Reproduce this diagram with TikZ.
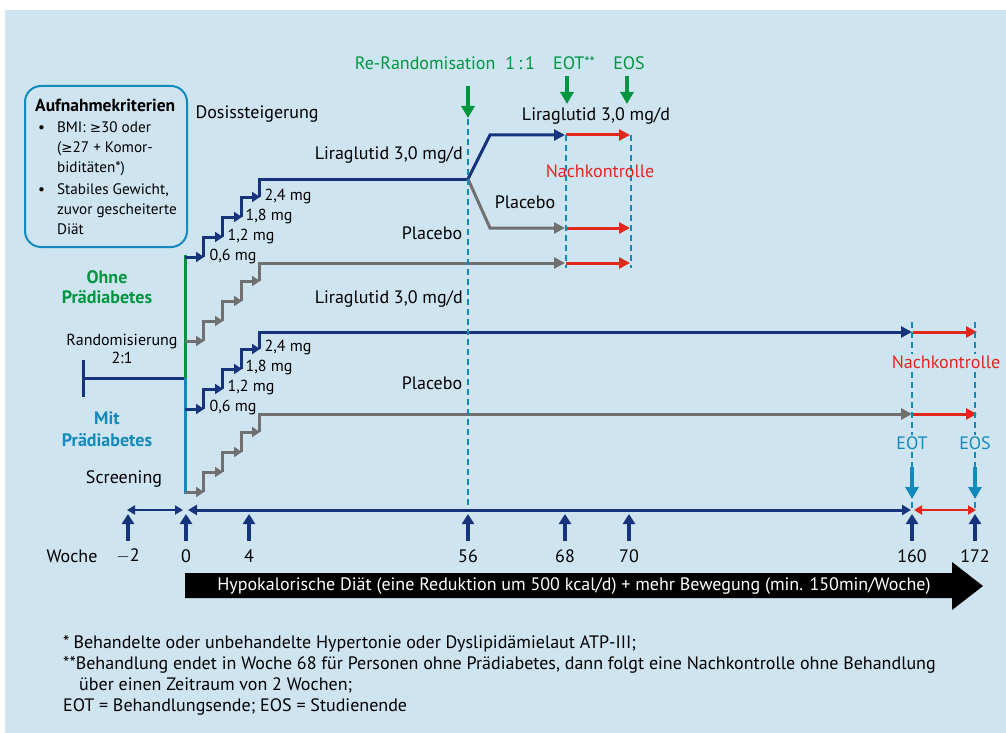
\documentclass[tikz,border=0pt]{standalone}
\usepackage{fontspec}
\setmainfont{PT Sans}
\newfontfamily\symfont{DejaVu Sans}
\usetikzlibrary{arrows.meta, positioning}

\definecolor{bgblue}{RGB}{207,228,241}
\definecolor{navy}{RGB}{22,52,124}
\definecolor{stepgray}{RGB}{112,112,112}
\definecolor{studygreen}{RGB}{0,150,64}
\definecolor{teal}{RGB}{18,138,188}
\definecolor{followred}{RGB}{228,38,28}

\begin{document}
\begin{tikzpicture}[x=1pt, y=-1pt,
    font=\fontsize{18}{20}\selectfont,
    >={Triangle[length=11pt,width=11pt]},
    line/.style={line width=3pt},
    stairtip/.style={-{Triangle[length=8pt,width=10pt]}},
    navyline/.style={line, draw=navy},
    grayline/.style={line, draw=stepgray},
    redline/.style={line, draw=followred, ->},
    marker/.style={draw=teal, line width=1.5pt, dash pattern=on 6pt off 4pt},
    tick/.style={draw=navy, line width=3.5pt, -{Triangle[length=10pt,width=12pt]}},
    greenarrow/.style={draw=studygreen, line width=3.5pt, -{Triangle[length=12pt,width=13pt]}},
    tealarrow/.style={draw=teal, line width=3.5pt, -{Triangle[length=12pt,width=13pt]}},
    label/.style={inner sep=1pt},
    dose/.style={inner sep=1pt, font=\fontsize{16}{18}\selectfont}]

    % background
    \useasboundingbox (0,0) rectangle (1006,733);
    \fill[bgblue] (5,10) rectangle (1006,733);

    % inclusion criteria
    \draw[teal, line width=2pt, rounded corners=16pt] (25,86) rectangle (187,247);
    \node[label, anchor=north west, align=left, font=\fontsize{15.2}{20}\selectfont]
        (crit) at (34,96) {%
        \begin{tabular}{@{}l@{\hspace{12pt}}l@{}}
        \multicolumn{2}{@{}l}{\fontsize{17.5}{20}\selectfont\bfseries Aufnahmekriterien}\\[1pt]
        \hspace{3pt}\textbullet & BMI: {\symfont\fontsize{13.5}{14}\selectfont ≥}30 oder\\
                    & ({\symfont\fontsize{13.5}{14}\selectfont ≥}27 + Komor-\\
                    & biditäten*)\\[2pt]
        \hspace{3pt}\textbullet & Stabiles Gewicht,\\
                    & zuvor gescheiterte\\
                    & Diät
        \end{tabular}};

    % group labels
    \node[label] (dosis) at (257,114) {Dosissteigerung};
    \node[label, text=studygreen, font=\fontsize{18}{20}\selectfont\bfseries, align=center]
        (ohne) at (107,287) {Ohne\\Prädiabetes};
    \node[label, text=teal, font=\fontsize{18}{22}\selectfont\bfseries, align=center]
        (mit) at (107,429) {Mit\\Prädiabetes};
    \node[label, align=center, font=\fontsize{16}{18}\selectfont] (rand) at (122,349) {Randomisierung\\2:1};
    \node[label] (screen) at (124,479) {Screening};

    % screening and randomisation
    \coordinate (split) at (185,378);
    \draw[navy, line width=3pt] (83,360) -- (83,397);
    \draw[navyline] (83,378) -- (split);
    \draw[studygreen, line width=3pt] (split) -- (185,255);
    \draw[teal, line width=3pt] (split) -- (185,494);

    % titration stairs
    \foreach \y/\c in {257/navy, 341/stepgray, 409/navy, 492/stepgray}{
        \draw[line, \c, stairtip] (185,\y) -- (204,\y);
        \draw[line, \c, stairtip] (203,\y) |- (223,\y-20);
        \draw[line, \c, stairtip] (222,\y-20) |- (242,\y-40);
        \draw[line, \c, stairtip] (241,\y-40) |- (260,\y-60);
    }
    \coordinate (rerand) at (468,179);
    \coordinate (ohnePla) at (565,263);
    \coordinate (mitLira) at (912,332);
    \coordinate (mitPla) at (912,414);
    \draw[navyline] (259,197) |- (rerand);
    \draw[grayline, ->] (259,281) |- (ohnePla);
    \draw[navyline, ->] (259,349) |- (mitLira);
    \draw[grayline, ->] (259,432) |- (mitPla);

    % dose labels
    \foreach \y in {0,151}{
        \node[dose] at (233,256+\y) {0,6 mg};
        \node[dose] at (251,236+\y) {1,2 mg};
        \node[dose] at (269,216+\y) {1,8 mg};
        \node[dose] at (288,196+\y) {2,4 mg};
    }
    \node[label, anchor=east] (lira1) at (464,155) {Liraglutid 3,0 mg/d};
    \node[label] (pla1) at (432,233) {Placebo};
    \node[label, anchor=east] (lira2) at (464,299) {Liraglutid 3,0 mg/d};
    \node[label] (pla2) at (432,383) {Placebo};

    % re-randomisation branch
    \coordinate (rLira) at (565,135);
    \coordinate (rPla) at (565,228);
    \draw[navyline, ->] (rerand) -- (490,135) -- (rLira);
    \draw[grayline, ->] (rerand) -- (490,228) -- (rPla);
    \foreach \y in {135,228,263}
        \draw[redline] (566,\y) -- (630,\y);
    \draw[marker] (468,119) -- (468,509);
    \draw[marker] (566,135) -- (566,268);
    \draw[marker] (631,135) -- (631,268);

    \node[label, text=studygreen] (rrtext) at (445,63) {Re-Randomisation\hspace{10pt}1\,:\,1};
    \node[label, text=studygreen] (eot1) at (574,63) {EOT\raisebox{2pt}{\fontsize{15}{15}\selectfont **}};
    \node[label, text=studygreen] (eos1) at (629,63) {EOS};
    \draw[greenarrow] (468,86) -- (468,118);
    \draw[greenarrow] (567,76) -- (567,104);
    \draw[greenarrow] (627,76) -- (627,104);
    \node[label] (lira3) at (596,116) {Liraglutid 3,0 mg/d};
    \node[label, text=followred] (nach1) at (600,171) {Nachkontrolle};
    \node[label] (pla3) at (525,202) {Placebo};

    % follow-up with prediabetes
    \draw[redline] (913,332) -- (977,332);
    \draw[redline] (913,414) -- (977,414);
    \draw[marker] (912,322) -- (912,509);
    \draw[marker] (975,322) -- (975,509);
    \node[label, fill=bgblue, text=followred] (nach2) at (946,362) {Nachkontrolle};
    \node[label, fill=bgblue, text=teal] (eot2) at (912,443) {EOT};
    \node[label, fill=bgblue, text=teal] (eos2) at (975,443) {EOS};
    \draw[tealarrow] (912,467) -- (912,499);
    \draw[tealarrow] (975,467) -- (975,499);

    % time axis
    \draw[navy, line width=2.5pt, {Triangle[length=8pt,width=9pt]}-{Triangle[length=8pt,width=9pt]}]
        (127,510) -- (183,510);
    \draw[navy, line width=3pt, {Triangle[length=9pt,width=10pt]}-{Triangle[length=9pt,width=10pt]}]
        (188,510) -- (911,510);
    \draw[followred, line width=2.5pt, {Triangle[length=8pt,width=9pt]}-{Triangle[length=8pt,width=9pt]}]
        (914,510) -- (976,510);
    \node[label] (woche) at (72,556) {Woche};
    \foreach \x/\w in {128/$-$2, 186/0, 249/4, 468/56, 565/68, 629/70, 912/160, 975/172}{
        \draw[tick] (\x,541) -- (\x,514);
        \node[label] at (\x,556) {\w};
    }

    % diet and exercise bar
    \fill (185,573) -- (952,573) -- (952,562) -- (983,586) -- (952,610) -- (952,598)
        -- (185,598) -- cycle;
    \node[label, text=white] (diet) at (574,586)
        {Hypokalorische Diät (eine Reduktion um 500 kcal/d) + mehr Bewegung (min. 150min/Woche)};

    % footnotes
    \node[label, anchor=base west] (fn1) at (62,648)
        {*\hspace{4pt}Behandelte oder unbehandelte Hypertonie oder Dyslipidämielaut ATP-III;};
    \node[label, anchor=base west] (fn2) at (62,669)
        {**Behandlung endet in Woche 68 für Personen ohne Prädiabetes, dann folgt eine Nachkontrolle ohne Behandlung};
    \node[label, anchor=base west] (fn3) at (78,690) {über einen Zeitraum von 2 Wochen;};
    \node[label, anchor=base west] (fn4) at (62,711) {EOT = Behandlungsende; EOS = Studienende};
\end{tikzpicture}
\end{document}
